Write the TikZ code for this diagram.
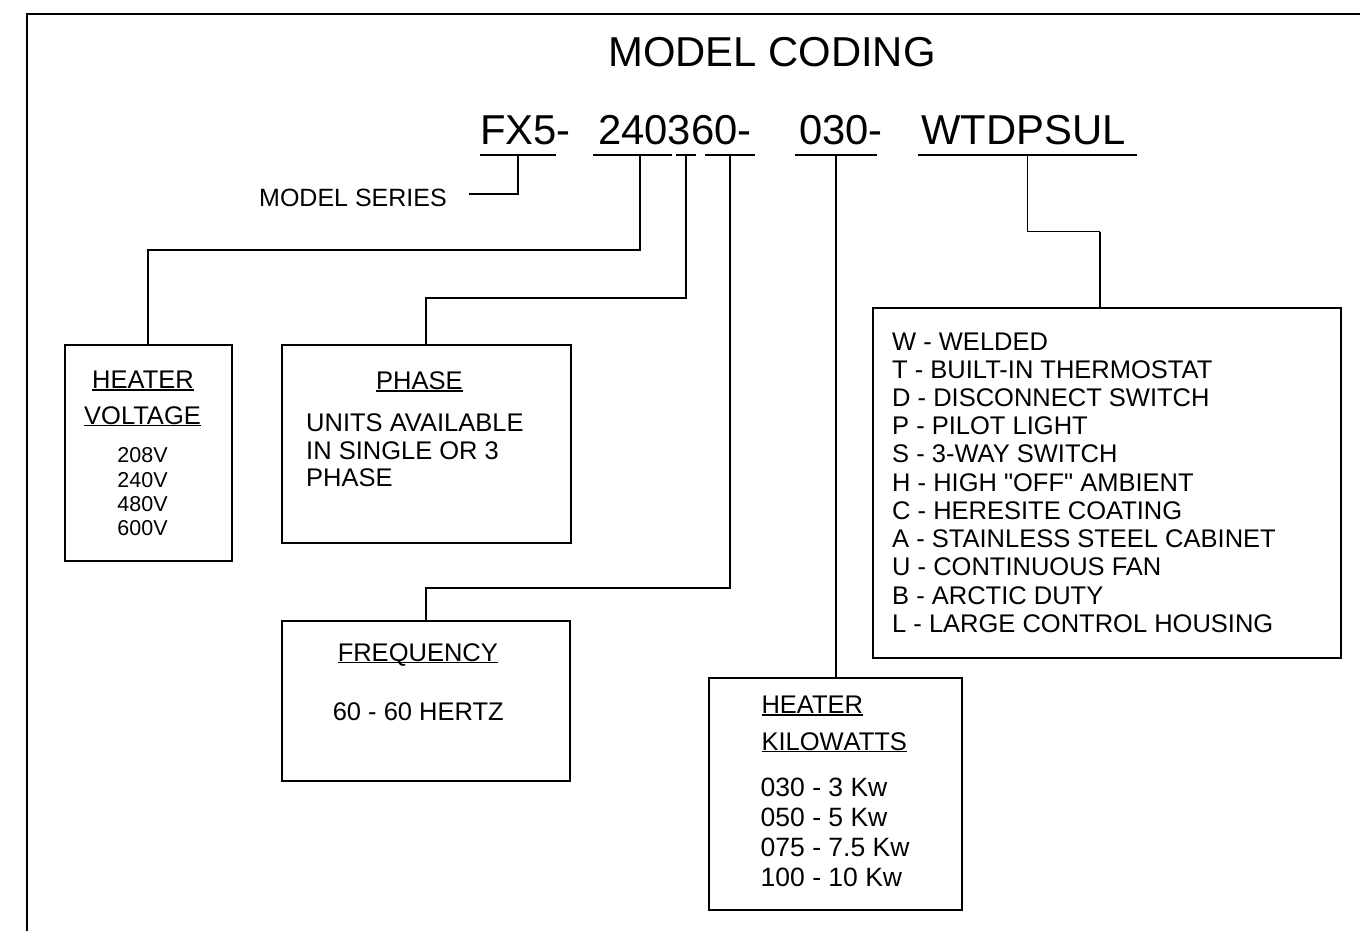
\documentclass[tikz,border=0pt]{standalone}
\usepackage{fontspec}
\setmainfont{Liberation Sans}[Ligatures=ResetAll]
\newcommand\ulx[1]{\setbox0\hbox{#1}\rlap{\rule[-2.4pt]{\wd0}{1.6pt}}\box0}
\newcommand\sq{\XeTeXglyph\XeTeXcharglyph"22\relax}
\begin{document}
\begin{tikzpicture}[x=1pt,y=-1pt,
  ln/.style={line width=2pt},
  thinln/.style={line width=1.1pt},
  boxst/.style={draw,line width=2pt,inner sep=0pt},
  txt/.style={inner sep=0pt,font=\fontsize{25.5}{30}\selectfont},
  small/.style={inner sep=0pt,font=\fontsize{21.5}{25}\selectfont},
  big/.style={inner sep=0pt,font=\fontsize{41.8}{48}\selectfont}]
\useasboundingbox (0,0) rectangle (1360,930);
% frame
\draw[ln] (27,935) -- (27,14) -- (1365,14);
% title and code
\node[big,anchor=base] (title) at (772,66.7) {MODEL CODING};
\node[big,anchor=base west] (c1) at (480,144.3) {FX5-};
\node[big,anchor=base west] (c2) at (598,144.3) {240360-};
\node[big,anchor=base west] (c3) at (799,144.3) {030-};
\node[big,anchor=base west] (c4) at (921,144.3) {WTDPSUL};
% underlines
\draw[ln] (480,155.3) -- (556,155.3);
\draw[ln] (593.3,155.3) -- (672.3,155.3);
\draw[ln] (676,155.3) -- (695.7,155.3);
\draw[ln] (705,155.3) -- (755.3,155.3);
\draw[ln] (795,155.3) -- (876.7,155.3);
\draw[ln] (917.7,155.3) -- (1137.3,155.3);
\coordinate (u1) at (518.3,155.3);
\coordinate (u2) at (639.5,155.3);
\coordinate (u3) at (686,155.3);
\coordinate (u4) at (730,155.3);
\coordinate (u5) at (835.5,155.3);
\coordinate (u6) at (1027.3,155.3);
% model series
\node[txt,font=\fontsize{25}{30}\selectfont,anchor=base west] (ms) at (259,206.7) {MODEL SERIES};
\coordinate (msend) at (469.3,194.3);
\draw[ln] (u1) |- (msend);
% boxes
\node[boxst,minimum width=167.5pt,minimum height=216pt] (volt) at (148.25,453) {};
\node[boxst,minimum width=288.2pt,minimum height=198.3pt] (phase) at (426.4,444.15) {};
\node[boxst,minimum width=288pt,minimum height=159.7pt] (freq) at (426,700.85) {};
\node[boxst,minimum width=252.4pt,minimum height=231.7pt] (kw) at (835.5,794.15) {};
\node[boxst,minimum width=467.7pt,minimum height=350pt] (feat) at (1107.15,483.3) {};
% connectors
\draw[ln] (u2) -- ++(0,94.7) -| (volt.north);
\draw[ln] (u3) -- ++(0,143) -| (phase.north);
\draw[ln] (u4) -- ++(0,433) -| (freq.north);
\draw[ln] (u5) -- (kw.north);
\draw[thinln] (u6) -- ++(0,76.4) -- ++(72.7,0) coordinate (fk);
\draw[ln] (fk) -- (fk |- feat.north);
% voltage box text
\node[txt,anchor=base] (vt1) at (143,388.3) {\ulx{HEATER}};
\node[txt,anchor=base] (vt2) at (142.5,424) {\ulx{VOLTAGE}};
\foreach \t [count=\i from 0] in {208V,240V,480V,600V}
  \node[small,anchor=base] (v\i) at (142.5,462.7+24.4*\i) {\t};
% phase box text
\node[txt,anchor=base] (pt) at (419.4,389.3) {\ulx{PHASE}};
\node[txt,anchor=base west] (p1) at (306,431.7) {UNITS AVAILABLE};
\node[txt,anchor=base west] (p2) at (306,459.5) {IN SINGLE OR 3};
\node[txt,anchor=base west] (p3) at (306,486.7) {PHASE};
% frequency box text
\node[txt,anchor=base] (ft) at (417.8,661) {\ulx{FREQUENCY}};
\node[txt,anchor=base] (f1) at (418.3,720) {60 - 60 HERTZ};
% kilowatt box text
\node[txt,anchor=base west] (kt1) at (761.3,713.3) {\ulx{HEATER}};
\node[txt,anchor=base west] (kt2) at (761.3,750) {\ulx{KILOW}\ulx{ATTS}};
\foreach \t [count=\i from 0] in {030 - 3 Kw,050 - 5 Kw,075 - 7.5 Kw,100 - 10 Kw}
  \node[txt,font=\fontsize{26.5}{30}\selectfont,anchor=base west] (k\i) at (760.5,796.7+30*\i) {\t};
% features box text
\foreach \t [count=\i from 0] in {W - WELDED,T - BUILT-IN THERMOSTAT,D - DISCONNECT SWITCH,P - PILOT LIGHT,S - 3-WAY SWITCH,H - HIGH \sq OFF\sq\ AMBIENT,C - HERESITE COATING,A - STAINLESS STEEL CABINET,U - CONTINUOUS FAN,B - ARCTIC DUTY,L - LARGE CONTROL HOUSING}
  \node[txt,anchor=base west] (w\i) at (892,350+28.23*\i) {\t};
\end{tikzpicture}
\end{document}
